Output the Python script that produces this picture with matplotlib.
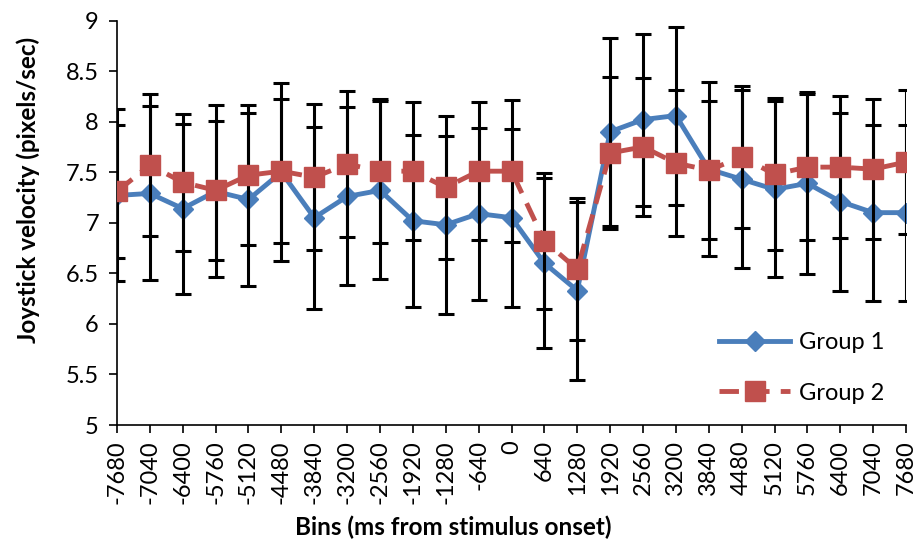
"""
Joystick velocity per time bin for two groups, with error bars.
"""

import matplotlib
matplotlib.use("Agg")
import matplotlib.pyplot as plt

# Time bins (ms from stimulus onset)
bins = [-7680, -7040, -6400, -5760, -5120, -4480, -3840, -3200, -2560, -1920,
        -1280, -640, 0, 640, 1280, 1920, 2560, 3200, 3840, 4480, 5120, 5760,
        6400, 7040, 7680]

# Mean velocity (pixels/sec)
group1 = [7.27, 7.29, 7.14, 7.31, 7.23, 7.50, 7.05, 7.26, 7.32, 7.02,
          6.98, 7.09, 7.05, 6.60, 6.33, 7.90, 8.02, 8.06, 7.53, 7.43,
          7.33, 7.39, 7.21, 7.10, 7.10]
group2 = [7.31, 7.57, 7.40, 7.32, 7.47, 7.51, 7.45, 7.58, 7.51, 7.51,
          7.35, 7.51, 7.51, 6.82, 6.54, 7.69, 7.75, 7.59, 7.52, 7.65,
          7.48, 7.55, 7.55, 7.53, 7.60]

# Error bar half-widths
group1_err = [0.85, 0.86, 0.84, 0.85, 0.86, 0.88, 0.90, 0.88, 0.88, 0.85,
              0.88, 0.85, 0.88, 0.84, 0.88, 0.93, 0.85, 0.88, 0.86, 0.88,
              0.87, 0.90, 0.88, 0.87, 0.87]
group2_err = [0.66, 0.70, 0.68, 0.69, 0.69, 0.71, 0.72, 0.72, 0.71, 0.68,
              0.71, 0.68, 0.70, 0.67, 0.70, 0.75, 0.68, 0.72, 0.68, 0.70,
              0.75, 0.72, 0.70, 0.69, 0.71]

plt.rcParams['font.family'] = ['Lato', 'DejaVu Sans']

fig = plt.figure(figsize=(9.19, 5.41), dpi=100)
ax = fig.add_axes([0.1273, 0.2144, 0.8586, 0.7477])

x = list(range(len(bins)))
blue = '#4A7EBB'
red = '#C0504D'

# Series 1
ax.errorbar(x, group1, yerr=group1_err, fmt='none', ecolor='black',
            elinewidth=2.2, capsize=6, capthick=2.2, zorder=2)
ax.plot(x, group1, color=blue, lw=3.5, marker='D', ms=10.5,
        mfc=blue, mec=blue, label='Group 1', zorder=3)

# Series 2
ax.errorbar(x, group2, yerr=group2_err, fmt='none', ecolor='black',
            elinewidth=2.2, capsize=6, capthick=2.2, zorder=4)
ax.plot(x, group2, color=red, lw=3.5, ls=(0, (4, 2.3)), marker='s', ms=14,
        mfc=red, mec=red, label='Group 2', zorder=5)

ax.set_xlim(0, len(bins) - 1)
ax.set_ylim(5, 9)
ax.set_yticks([5, 5.5, 6, 6.5, 7, 7.5, 8, 8.5, 9])
ax.set_yticklabels(['5', '5.5', '6', '6.5', '7', '7.5', '8', '8.5', '9'])
ax.set_xticks(x)
ax.set_xticklabels([str(b) for b in bins], rotation=90)

for side in ['top', 'right']:
    ax.spines[side].set_visible(False)
for side in ['left', 'bottom']:
    ax.spines[side].set_linewidth(1.2)

ax.tick_params(axis='both', direction='out', length=6, width=1.2,
               labelsize=17, color='black')
ax.tick_params(axis='y', pad=7)
ax.tick_params(axis='x', pad=5)

ax.set_xlabel("Bins (ms from stimulus onset)", fontsize=17.5, fontweight='bold')
ax.set_ylabel("Joystick velocity (pixels/sec)", fontsize=17.5, fontweight='bold')
# axis titles sit a little off-centre, as in the original workbook
ax.xaxis.set_label_coords(0.426, -0.225)
ax.yaxis.set_label_coords(-0.098, 0.581)

ax.legend(loc='lower right', bbox_to_anchor=(1.0, 0.0), frameon=False,
          fontsize=17, handlelength=3.0, labelspacing=1.25, handletextpad=0.4)

fig.savefig('out.png', dpi=100)
